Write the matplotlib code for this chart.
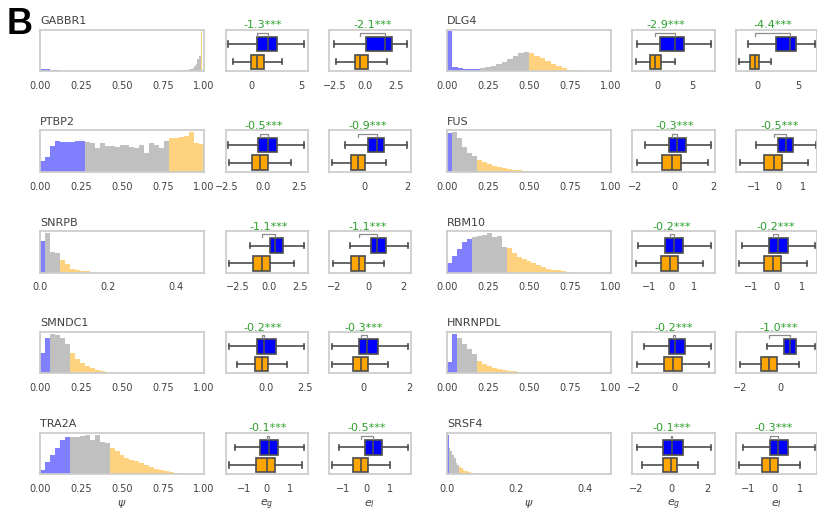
import numpy as np
import matplotlib.pyplot as plt
from matplotlib.transforms import blended_transform_factory

#-----------------------------------------------------------------------------#
# data (left column top->bottom, then right column top->bottom)

genes = ['GABBR1', 'PTBP2', 'SNRPB', 'SMNDC1', 'TRA2A',
         'DLG4', 'FUS', 'RBM10', 'HNRNPDL', 'SRSF4']

# psi histograms: bar heights, bin width, no. of low (blue) / mid (gray) bins
hist_gabbr1 = ([7, 7, 7, 7, 6, 6, 4, 4, 4, 3, 3, 2] + [0] * 75 + [2, 3, 3]
               + [3, 5, 7, 10, 14, 22, 35, 45] + [118, 0])
hist_ptbp2 = [32, 43, 78, 93, 90, 90, 88, 92, 93,
              90, 87, 70, 85, 78, 77, 75, 80, 80, 75, 70, 80, 55, 87, 80, 70, 92,
              102, 102, 103, 108, 118, 85, 82]
hist_snrpb = [93, 118, 61, 58, 38, 26, 12, 9, 5, 4]
hist_smndc1 = [58, 102, 115, 113, 103, 85, 60, 43, 30, 22, 15, 10, 7, 4, 2]
hist_tra2a = [11, 35, 56, 78, 100, 110, 108, 110, 113, 116, 100, 116, 95, 93,
              78, 68, 56, 48, 43, 38, 33, 26, 20, 16, 11, 8, 5, 3]
hist_dlg4 = [118, 12, 8, 7, 7, 7, 9, 12, 15, 20, 28, 36, 45, 53, 58,
             55, 46, 38, 30, 22, 14, 8, 4, 2]
hist_fus = [115, 118, 100, 75, 55, 48, 35, 28, 22, 17, 13, 10, 8, 6, 4, 3, 2, 1]
hist_rbm10 = [27, 50, 70, 90, 100, 105, 107, 112, 117, 104, 107, 77,
              72, 57, 47, 40, 34, 27, 22, 17, 12, 9, 7, 4, 2]
hist_hnrnpdl = [32, 115, 102, 85, 70, 57, 35, 27, 21, 16, 13, 10, 8, 6, 4, 3, 2, 1]
hist_srsf4 = [120, 80, 70, 58, 48, 35, 28, 22, 18, 13, 11, 9, 7, 6, 5, 4, 3, 3,
              2, 2, 1, 1, 1]

hists = [hist_gabbr1, hist_ptbp2, hist_snrpb, hist_smndc1, hist_tra2a,
         hist_dlg4, hist_fus, hist_rbm10, hist_hnrnpdl, hist_srsf4]
bin_width = [0.01, 1/33, 0.01464, 1/33, 1/33, 1/30, 1/33, 1/33, 1/33, 0.005]
n_low = [90, 9, 1, 2, 6, 6, 1, 5, 2, 1]
n_mid = [8, 17, 3, 4, 8, 9, 5, 7, 4, 6]
psi_xmax = [1, 1, 0.483, 1, 1, 1, 1, 1, 1, 0.475]
psi_ticks = [[0, 0.25, 0.5, 0.75, 1.0], [0, 0.25, 0.5, 0.75, 1.0], [0, 0.2, 0.4],
             [0, 0.25, 0.5, 0.75, 1.0], [0, 0.25, 0.5, 0.75, 1.0],
             [0, 0.25, 0.5, 0.75, 1.0], [0, 0.25, 0.5, 0.75, 1.0],
             [0, 0.25, 0.5, 0.75, 1.0], [0, 0.25, 0.5, 0.75, 1.0], [0, 0.2, 0.4]]

# box stats (whislo, q1, med, q3, whishi)
eg_blue = [(-2.36, 0.57, 1.62, 2.53, 5.23), (-2.37, -0.36, 0.36, 0.98, 2.83),
           (-1.54, 0.05, 0.52, 1.16, 2.78), (-2.42, -0.57, -0.11, 0.65, 2.44),
           (-1.41, -0.30, 0.07, 0.49, 1.63), (-2.94, 0.33, 2.54, 3.80, 7.65),
           (-1.50, -0.26, 0.12, 0.58, 1.88), (-1.52, -0.30, 0.10, 0.52, 1.75),
           (-1.51, -0.30, 0.00, 0.49, 1.77), (-1.94, -0.46, 0.04, 0.61, 2.17)]
eg_orange = [(-1.92, -0.10, 0.51, 1.18, 3.04), (-2.30, -0.75, -0.22, 0.36, 1.98),
             (-3.17, -1.27, -0.53, 0.05, 1.98), (-1.92, -0.72, -0.28, 0.11, 1.35),
             (-1.68, -0.47, 0.00, 0.34, 1.56), (-3.13, -1.06, -0.34, 0.43, 2.50),
             (-1.93, -0.62, -0.10, 0.34, 1.71), (-1.60, -0.48, -0.07, 0.30, 1.39),
             (-1.89, -0.54, -0.08, 0.36, 1.69), (-1.67, -0.50, -0.06, 0.28, 1.44)]
el_blue = [(-2.60, 0.05, 1.64, 2.18, 3.41), (-0.94, 0.16, 0.55, 0.90, 1.97),
           (-1.10, 0.10, 0.48, 1.00, 2.25), (-1.33, -0.19, 0.15, 0.65, 1.91),
           (-1.17, -0.06, 0.30, 0.66, 1.76), (-1.10, 2.28, 3.99, 4.72, 6.95),
           (-0.90, -0.02, 0.30, 0.58, 1.49), (-1.35, -0.30, 0.05, 0.44, 1.49),
           (-0.68, 0.20, 0.47, 0.81, 1.74), (-1.18, -0.18, 0.13, 0.51, 1.54)]
el_orange = [(-2.42, -0.89, -0.40, 0.21, 1.75), (-1.54, -0.63, -0.31, 0.00, 0.98),
             (-2.08, -1.00, -0.58, -0.23, 0.87), (-1.33, -0.43, -0.10, 0.19, 1.06),
             (-1.44, -0.56, -0.23, 0.09, 1.02), (-2.20, -0.89, -0.28, 0.24, 1.63),
             (-1.55, -0.57, -0.20, 0.14, 1.19), (-1.44, -0.47, -0.13, 0.20, 1.18),
             (-2.03, -0.96, -0.59, -0.17, 0.93), (-1.33, -0.47, -0.18, 0.13, 0.97)]
eg_xlim = [(-2.63, 5.63), (-2.56, 3.11), (-3.47, 3.10), (-2.63, 2.70), (-1.82, 1.80),
           (-3.67, 8.22), (-2.15, 2.07), (-1.77, 1.93), (-2.10, 1.96), (-2.19, 2.39)]
el_xlim = [(-3.04, 3.77), (-1.70, 2.16), (-2.31, 2.41), (-1.49, 2.06), (-1.60, 1.90),
           (-2.60, 7.16), (-1.72, 1.53), (-1.58, 1.57), (-2.25, 1.83), (-1.47, 1.62)]
eg_ticks = [[0, 5], [-2.5, 0, 2.5], [-2.5, 0, 2.5], [0, 2.5], [-1, 0, 1],
            [0, 5], [-2, 0, 2], [-1, 0, 1], [-2, 0], [-2, 0, 2]]
el_ticks = [[-2.5, 0, 2.5], [0, 2], [-2, 0, 2], [0, 2], [-1, 0, 1],
            [0, 5], [-1, 0, 1], [-1, 0, 1], [-2, 0], [-1, 0, 1]]
eg_diff = [-1.3, -0.5, -1.1, -0.2, -0.1, -2.9, -0.3, -0.2, -0.2, -0.1]
el_diff = [-2.1, -0.9, -1.1, -0.3, -0.5, -4.4, -0.5, -0.2, -1.0, -0.3]

#-----------------------------------------------------------------------------#
# layout in pixels
W, H = 817, 513
col_x = [40, 225.7, 328.5, 447, 632.3, 735.7]
col_w = [164, 82, 82.5, 164, 82.4, 81]
row_top0 = 29.5
row_step = 100.8
ax_h = 41.5

edge_col = '0.8'
text_col = '0.25'
line_col = '0.3'

plt.rcParams['font.family'] = 'DejaVu Sans'
fig = plt.figure(figsize=(W / 100, H / 100), dpi=100)


def make_ax(x, w, top):
    ax = fig.add_axes([x / W, 1 - (top + ax_h) / H, w / W, ax_h / H])
    for s in ax.spines.values():
        s.set_color(edge_col)
        s.set_linewidth(1.25)
    ax.set_yticks([])
    ax.tick_params(axis='x', length=0, pad=7, labelsize=7, labelcolor=text_col)
    return ax


def box_panel(ax, blue, orange, xlim, ticks, diff):
    stats = []
    for s in (blue, orange):
        stats.append(dict(whislo=s[0], q1=s[1], med=s[2], q3=s[3], whishi=s[4],
                          fliers=[]))
    bp = ax.bxp(stats, positions=[0, 1], widths=0.82, orientation='horizontal',
                patch_artist=True, showfliers=False, capwidths=0.3,
                boxprops=dict(edgecolor=line_col, linewidth=1.2),
                medianprops=dict(color=line_col, linewidth=1.2),
                whiskerprops=dict(color=line_col, linewidth=1.2),
                capprops=dict(color=line_col, linewidth=1.2))
    bp['boxes'][0].set_facecolor('#0000ff')
    bp['boxes'][1].set_facecolor('#ffa500')
    ax.set_ylim(1.52, -0.82)
    ax.set_xlim(*xlim)
    ax.set_xticks(ticks)
    ax.set_yticks([])
    # bracket between medians
    tr = blended_transform_factory(ax.transData, ax.transAxes)
    m1, m2 = orange[2], blue[2]
    ax.plot([m1, m1, m2, m2], [0.85, 0.92, 0.92, 0.85], color='0.55', lw=0.9,
            transform=tr, clip_on=False)
    ax.text((m1 + m2) / 2, 0.985, '%.1f***' % diff, transform=tr, ha='center',
            va='bottom', color='#2ca02c', fontsize=8)


for i, g in enumerate(genes):
    row = i % 5
    c0 = 0 if i < 5 else 3
    top = row_top0 + row * row_step

    # psi histogram
    ax = make_ax(col_x[c0], col_w[c0], top)
    h = hists[i]
    edges = np.arange(len(h) + 1) * bin_width[i]
    cols = (['#8080ff'] * n_low[i] + ['#c0c0c0'] * n_mid[i]
            + ['#ffd280'] * (len(h) - n_low[i] - n_mid[i]))
    ax.bar(edges[:-1], h, width=bin_width[i], align='edge', color=cols, linewidth=0)
    ax.set_xlim(0, psi_xmax[i])
    ax.set_xticks(psi_ticks[i])
    ax.set_title(g, loc='left', fontsize=8, color=text_col, pad=4)

    ax_g = make_ax(col_x[c0 + 1], col_w[c0 + 1], top)
    box_panel(ax_g, eg_blue[i], eg_orange[i], eg_xlim[i], eg_ticks[i], eg_diff[i])
    ax_l = make_ax(col_x[c0 + 2], col_w[c0 + 2], top)
    box_panel(ax_l, el_blue[i], el_orange[i], el_xlim[i], el_ticks[i], el_diff[i])

    if row == 4:
        ax.set_xlabel(r'$\psi$', fontsize=8, color=text_col, labelpad=3)
        ax_g.set_xlabel(r'$e_g$', fontsize=8, color=text_col, labelpad=3)
        ax_l.set_xlabel(r'$e_l$', fontsize=8, color=text_col, labelpad=3)

fig.text(7 / W, 1 - 7 / H, 'B', fontsize=26, fontweight='bold', ha='left', va='top',
         family=['Liberation Sans', 'DejaVu Sans'])

fig.savefig('out.png', dpi=100)
